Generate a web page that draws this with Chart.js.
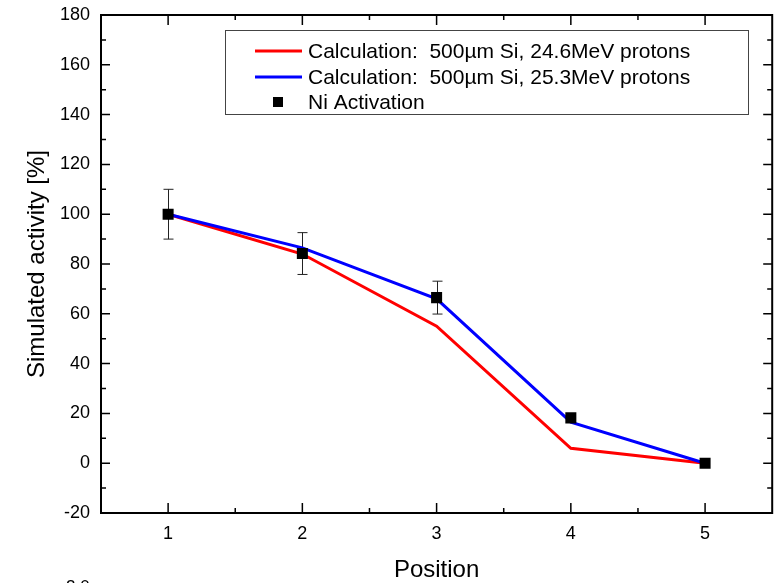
<!DOCTYPE html>
<html>
<head>
<meta charset="utf-8">
<script src="https://cdn.jsdelivr.net/npm/chart.js@4.4.1/dist/chart.umd.min.js"></script>
<style>
  html, body { margin: 0; padding: 0; background: #fff; }
  #wrap { width: 780px; height: 583px; }
</style>
</head>
<body>
<div id="wrap"><canvas id="chart" width="780" height="583"></canvas></div>
<script>
// --- data ---
const positions = [1, 2, 3, 4, 5];
const calc246 = [100, 84, 55, 6, 0];       // 500µm Si, 24.6MeV protons
const calc253 = [100, 86.5, 66, 16.5, 0];  // 500µm Si, 25.3MeV protons
const niActivation = [100, 84.2, 66.5, 18.2, 0];
const niError = [10, 8.4, 6.6, 0, 0];
const xTicks = [1, 2, 3, 4, 5];
const yTicks = [-20, 0, 20, 40, 60, 80, 100, 120, 140, 160, 180];

const FONT = 'Arial, "Liberation Sans", sans-serif';

const toPoints = (ys) => positions.map((x, i) => ({ x, y: ys[i] }));

// error bars behind the square markers
const errorBars = {
  id: 'errorBars',
  beforeDatasetsDraw(chart) {
    const { ctx, scales: { x, y } } = chart;
    ctx.save();
    ctx.strokeStyle = '#222';
    ctx.lineWidth = 1;
    positions.forEach((p, i) => {
      if (!niError[i]) return;
      const px = Math.round(x.getPixelForValue(p)) + 0.5;
      const top = y.getPixelForValue(niActivation[i] + niError[i]);
      const bot = y.getPixelForValue(niActivation[i] - niError[i]);
      ctx.beginPath();
      ctx.moveTo(px, top); ctx.lineTo(px, bot);
      ctx.moveTo(px - 5, top); ctx.lineTo(px + 5, top);
      ctx.moveTo(px - 5, bot); ctx.lineTo(px + 5, bot);
      ctx.stroke();
    });
    ctx.restore();
  }
};

// frame with inward ticks on all four sides (Origin style)
const frame = {
  id: 'frame',
  afterDraw(chart) {
    const { ctx, chartArea: a, scales: { x, y } } = chart;
    ctx.save();
    ctx.strokeStyle = '#000';
    ctx.lineWidth = 2;
    ctx.strokeRect(a.left, a.top, a.right - a.left, a.bottom - a.top);
    ctx.lineWidth = 1.5;
    ctx.beginPath();
    // x: major at integers, minor at halves
    for (let v = 1; v <= 5; v += 0.5) {
      const px = x.getPixelForValue(v);
      const len = Number.isInteger(v) ? 10 : 5;
      ctx.moveTo(px, a.bottom); ctx.lineTo(px, a.bottom - len);
      ctx.moveTo(px, a.top); ctx.lineTo(px, a.top + len);
    }
    // y: major every 20, minor every 10
    for (let v = -10; v < 180; v += 10) {
      const py = y.getPixelForValue(v);
      const len = v % 20 === 0 ? 9 : 5;
      ctx.moveTo(a.left, py); ctx.lineTo(a.left + len, py);
      ctx.moveTo(a.right, py); ctx.lineTo(a.right - len, py);
    }
    ctx.stroke();

    // stray label cut off at the bottom edge of the original
    ctx.fillStyle = '#000';
    ctx.font = '17px ' + FONT;
    ctx.textBaseline = 'alphabetic';
    ctx.fillText('2.0', 66, 592);
    ctx.restore();
  }
};

// legend box inside the plot
const boxLegend = {
  id: 'boxLegend',
  afterDraw(chart) {
    const { ctx } = chart;
    const ds = chart.data.datasets;
    ctx.save();
    ctx.strokeStyle = '#444';
    ctx.lineWidth = 1;
    ctx.strokeRect(225.5, 30.5, 523, 84);
    ctx.font = '21px ' + FONT;
    ctx.fillStyle = '#000';
    ctx.textBaseline = 'alphabetic';
    const rows = [51, 77, 102];
    ds.forEach((d, i) => {
      const cy = rows[i];
      if (d.showLine === false) {
        ctx.fillStyle = '#000';
        ctx.fillRect(273, cy - 5, 10, 10);
      } else {
        ctx.strokeStyle = d.borderColor;
        ctx.lineWidth = 3;
        ctx.beginPath();
        ctx.moveTo(255, cy); ctx.lineTo(302, cy);
        ctx.stroke();
      }
      ctx.fillStyle = '#000';
      ctx.fillText(d.label, 308, cy + 7);
    });
    ctx.restore();
  }
};

new Chart(document.getElementById('chart'), {
  type: 'line',
  data: {
    datasets: [
      {
        label: 'Calculation:  500µm Si, 24.6MeV protons',
        data: toPoints(calc246),
        borderColor: '#ff0000',
        borderWidth: 3,
        pointRadius: 0,
        tension: 0,
        order: 3
      },
      {
        label: 'Calculation:  500µm Si, 25.3MeV protons',
        data: toPoints(calc253),
        borderColor: '#0000ff',
        borderWidth: 3,
        pointRadius: 0,
        tension: 0,
        order: 2
      },
      {
        label: 'Ni Activation',
        data: toPoints(niActivation),
        showLine: false,
        pointStyle: 'rect',
        pointRadius: 7.8,
        backgroundColor: '#000',
        borderColor: '#000',
        borderWidth: 0,
        order: 1
      }
    ]
  },
  options: {
    responsive: false,
    animation: false,
    layout: { padding: { top: 15, right: 7, left: 0, bottom: 0 } },
    plugins: { legend: { display: false }, tooltip: { enabled: false } },
    scales: {
      x: {
        type: 'linear',
        min: 0.5,
        max: 5.5,
        afterBuildTicks: (s) => { s.ticks = xTicks.map(v => ({ value: v })); },
        afterFit: (s) => { s.height = 70; s.paddingLeft = 0; s.paddingRight = 0; },
        grid: { display: false, drawTicks: false },
        border: { display: false },
        ticks: { color: '#000', font: { family: FONT, size: 18 }, padding: 10 },
        title: {
          display: true,
          text: 'Position',
          color: '#000',
          font: { family: FONT, size: 24 },
          padding: { top: 0, bottom: -2 }
        }
      },
      y: {
        min: -20,
        max: 180,
        afterBuildTicks: (s) => { s.ticks = yTicks.map(v => ({ value: v })); },
        afterFit: (s) => { s.width = 101; s.paddingTop = 0; s.paddingBottom = 0; },
        grid: { display: false, drawTicks: false },
        border: { display: false },
        ticks: { color: '#000', font: { family: FONT, size: 18 }, padding: 11 },
        title: {
          display: true,
          text: 'Simulated activity [%]',
          color: '#000',
          font: { family: FONT, size: 24 },
          padding: { top: 23, bottom: 0 }
        }
      }
    }
  },
  plugins: [errorBars, frame, boxLegend]
});
</script>
</body>
</html>
